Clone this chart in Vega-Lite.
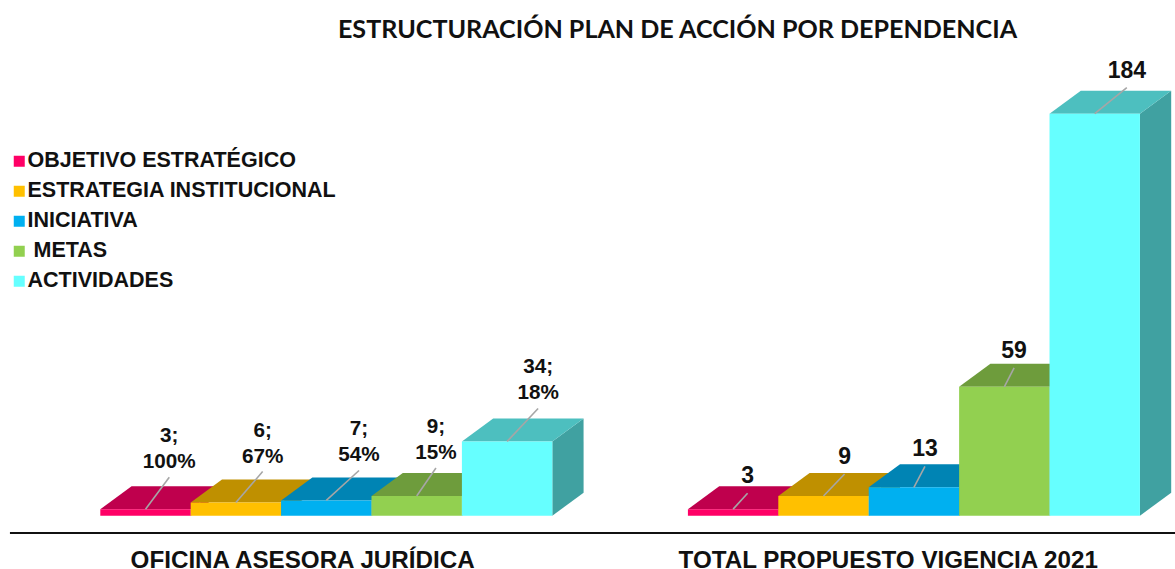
{
"$schema":"https://vega.github.io/schema/vega-lite/v6.json",
"width":1175,"height":569,"autosize":"none","padding":0,"background":"white",
"title":{"text":"ESTRUCTURACIÓN PLAN DE ACCIÓN POR DEPENDENCIA","font":"Lato","fontSize":25.1,"fontWeight":"bold","color":"#111111","anchor":"middle","dx":90,"offset":-63,"baseline":"alphabetic"},
"config":{"view":{"stroke":null}},
"data":{"values":[
{"grupo":"OFICINA ASESORA JURÍDICA","serie":"OBJETIVO ESTRATÉGICO","valor":3,"pct":"100%"},
{"grupo":"OFICINA ASESORA JURÍDICA","serie":"ESTRATEGIA INSTITUCIONAL","valor":6,"pct":"67%"},
{"grupo":"OFICINA ASESORA JURÍDICA","serie":"INICIATIVA","valor":7,"pct":"54%"},
{"grupo":"OFICINA ASESORA JURÍDICA","serie":"\u200b\u00a0METAS","valor":9,"pct":"15%"},
{"grupo":"OFICINA ASESORA JURÍDICA","serie":"ACTIVIDADES","valor":34,"pct":"18%"},
{"grupo":"TOTAL PROPUESTO VIGENCIA 2021","serie":"OBJETIVO ESTRATÉGICO","valor":3},
{"grupo":"TOTAL PROPUESTO VIGENCIA 2021","serie":"ESTRATEGIA INSTITUCIONAL","valor":9},
{"grupo":"TOTAL PROPUESTO VIGENCIA 2021","serie":"INICIATIVA","valor":13},
{"grupo":"TOTAL PROPUESTO VIGENCIA 2021","serie":"\u200b\u00a0METAS","valor":59},
{"grupo":"TOTAL PROPUESTO VIGENCIA 2021","serie":"ACTIVIDADES","valor":184}
]},
"transform":[
{"window":[{"op":"row_number","as":"n"}]},
{"calculate":"datum.n-1+(datum.n>5?1.5:0)","as":"s"},
{"calculate":"0.346","as":"dx"},
{"calculate":"10.53","as":"dz"}
],
"resolve":{"scale":{"color":"independent"}},
"layer":[
{"transform":[
{"calculate":"[0,1]","as":"t"},{"flatten":["t"]},
{"calculate":"datum.s+1+datum.dx*datum.t","as":"xx"},
{"calculate":"datum.valor+datum.dz*datum.t","as":"y1"},
{"calculate":"datum.dz*datum.t","as":"y0"}],
"mark":{"type":"area","interpolate":"linear"},
"encoding":{
"x":{"field":"xx","type":"quantitative","scale":{"domain":[-1.1095,11.888],"nice":false,"zero":false},"axis":null},
"y":{"field":"y1","type":"quantitative","scale":{"domain":[-24.39,236.02],"nice":false,"zero":false},"axis":null},
"y2":{"field":"y0"},
"detail":{"field":"n"},
"color":{"field":"serie","type":"nominal","legend":null,"scale":{"domain":["OBJETIVO ESTRATÉGICO","ESTRATEGIA INSTITUCIONAL","INICIATIVA","\u200b\u00a0METAS","ACTIVIDADES"],"range":["#A10040","#A17900","#006F97","#5C8333","#40A1A1"]}}
}},
{"transform":[
{"calculate":"[0,1,2,3]","as":"t"},{"flatten":["t"]},
{"calculate":"datum.t==0?datum.s:datum.t==1?datum.s+datum.dx:datum.t==2?datum.s+1:datum.s+1+datum.dx","as":"xx"},
{"calculate":"datum.t==0?datum.valor:datum.valor+datum.dz","as":"y1"},
{"calculate":"datum.t==3?datum.valor+datum.dz:datum.valor","as":"y0"}],
"mark":{"type":"area","interpolate":"linear"},
"encoding":{
"x":{"field":"xx","type":"quantitative","axis":null},
"y":{"field":"y1","type":"quantitative","axis":null},
"y2":{"field":"y0"},
"detail":{"field":"n"},
"color":{"field":"serie","type":"nominal","legend":null,"scale":{"domain":["OBJETIVO ESTRATÉGICO","ESTRATEGIA INSTITUCIONAL","INICIATIVA","\u200b\u00a0METAS","ACTIVIDADES"],"range":["#BF004D","#BF9000","#0084B4","#6E9C3C","#4DBFBF"]}}
}},
{"transform":[{"calculate":"datum.s+1","as":"s1"},{"calculate":"0","as":"base"}],
"mark":{"type":"rect"},
"encoding":{
"x":{"field":"s","type":"quantitative","axis":null},
"x2":{"field":"s1"},
"y":{"field":"valor","type":"quantitative","axis":null},
"y2":{"field":"base"},
"color":{"field":"serie","type":"nominal","sort":null,
"scale":{"domain":["OBJETIVO ESTRATÉGICO","ESTRATEGIA INSTITUCIONAL","INICIATIVA","\u200b\u00a0METAS","ACTIVIDADES"],"range":["#FF0066","#FFC000","#00B0F0","#92D050","#66FFFF"]},
"legend":{"title":null,"orient":"none","legendX":8.5,"legendY":150.5,"symbolType":"square","symbolSize":121,"symbolStrokeWidth":0,"symbolOpacity":1,"labelFont":"Liberation Sans","labelFontSize":21.5,"labelFontWeight":"bold","labelColor":"#111111","labelLimit":500,"labelOffset":-2.5,"rowPadding":7,"padding":0}}
}},
{"transform":[
{"calculate":"datum.s+0.5","as":"x0"},
{"calculate":"datum.x0+[0.263,0.296,0.362,0.213,0.343,0.16,0.233,0.122,0.108,0.355][datum.n-1]","as":"x1"},
{"calculate":"datum.valor+[14.6,14.2,13.7,12.8,15.1,7.3,10.1,9.6,8.7,11.9][datum.n-1]","as":"y1"}],
"mark":{"type":"rule","color":"#A6A6A6","strokeWidth":1.6},
"encoding":{
"x":{"field":"x0","type":"quantitative","axis":null},
"x2":{"field":"x1"},
"y":{"field":"valor","type":"quantitative","axis":null},
"y2":{"field":"y1"}
}},
{"transform":[
{"calculate":"datum.s+0.5+[0.263,0.296,0.362,0.213,0.343,0.16,0.233,0.122,0.108,0.355][datum.n-1]","as":"x1"},
{"calculate":"datum.valor+[14.6,14.2,13.7,12.8,15.1,7.3,10.1,9.6,8.7,11.9][datum.n-1]+(datum.pct?11.9:0)","as":"y1"},
{"calculate":"datum.pct?datum.valor+';\\n'+datum.pct:''+datum.valor","as":"etiqueta"}],
"mark":{"type":"text","font":"Liberation Sans","fontWeight":"bold","color":"#111111","lineBreak":"\n","lineHeight":26,"baseline":"bottom","align":"center","dy":-5},
"encoding":{
"x":{"field":"x1","type":"quantitative","axis":null},
"y":{"field":"y1","type":"quantitative","axis":null},
"size":{"condition":{"test":"datum.pct","value":20.7},"value":23},
"text":{"field":"etiqueta"}
}},
{"data":{"values":[{"linea":"base"}]},
"mark":{"type":"rule","color":"#111111","strokeWidth":2},
"encoding":{
"x":{"datum":-0.9995,"type":"quantitative","axis":null},
"x2":{"datum":11.888},
"y":{"datum":-7.9,"type":"quantitative","axis":null}
}},
{"transform":[
{"aggregate":[{"op":"mean","field":"s","as":"sm"}],"groupby":["grupo"]},
{"calculate":"datum.sm+0.5-(datum.sm>5?0.284:0.262)","as":"xc"}],
"mark":{"type":"text","font":"Liberation Sans","fontSize":24.2,"fontWeight":"bold","color":"#111111","baseline":"alphabetic","align":"center"},
"encoding":{
"x":{"field":"xc","type":"quantitative","axis":null},
"y":{"datum":-24,"type":"quantitative","axis":null},
"text":{"field":"grupo"}
}}
]
}
